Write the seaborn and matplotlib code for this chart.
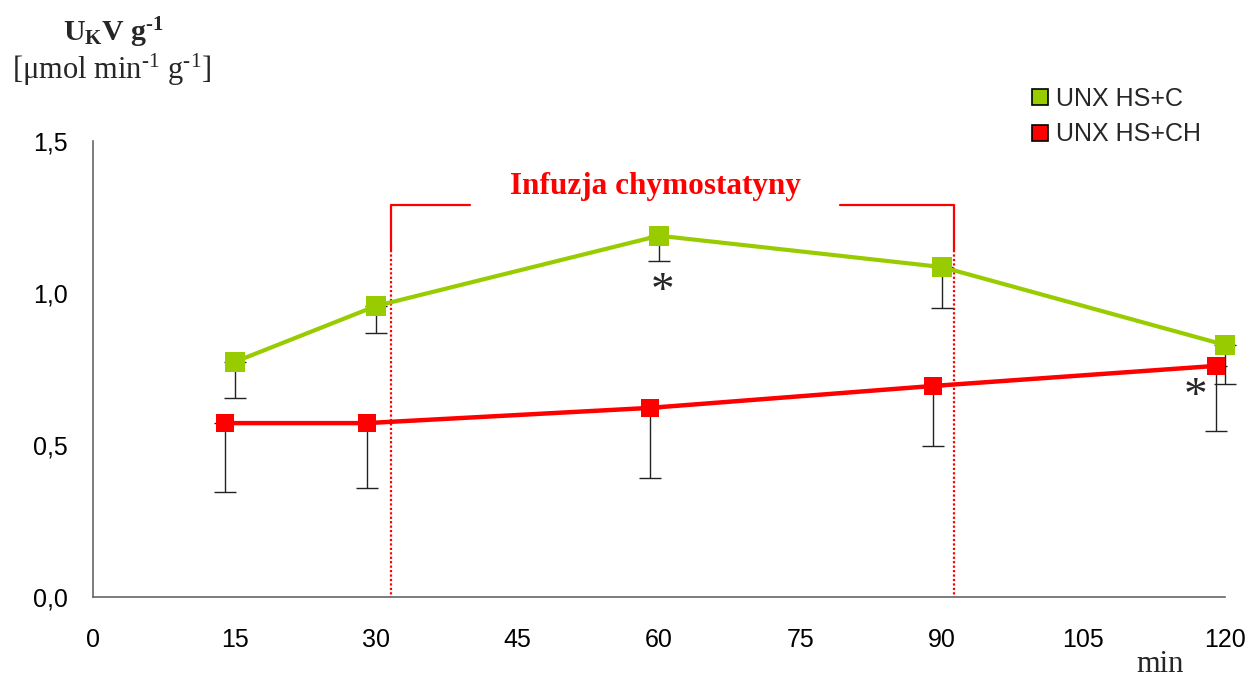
import matplotlib
matplotlib.use("Agg")
import matplotlib.pyplot as plt
from matplotlib.lines import Line2D
import numpy as np
import pandas as pd
import seaborn as sns

# Sampling times [min]
czas = [15, 30, 60, 90, 120]
# Group labels
grupy = ["UNX HS+C", "UNX HS+CH"]
# Mean values of UKV per g [umol/min/g]
srednie_c = [0.773, 0.957, 1.188, 1.085, 0.829]
srednie_ch = [0.572, 0.572, 0.622, 0.694, 0.760]
# Lower error (SD) for each mean
blad_c = [0.118, 0.089, 0.083, 0.134, 0.130]
blad_ch = [0.227, 0.214, 0.230, 0.197, 0.214]
# Axis ticks
x_ticks = [0, 15, 30, 45, 60, 75, 90, 105, 120]
y_ticks = [0.0, 0.5, 1.0, 1.5]
y_tick_labels = ["0,0", "0,5", "1,0", "1,5"]
# Chymostatin infusion window [min]
infuzja = (31.6, 91.3)

kolory = {"UNX HS+C": "#99CC00", "UNX HS+CH": "#FF0000"}
przesuniecie = {"UNX HS+C": 0.0, "UNX HS+CH": -1.0}
rozmiar = {"UNX HS+C": 14.5, "UNX HS+CH": 12.5}
grubosc = {"UNX HS+C": 3.0, "UNX HS+CH": 3.2}

sns.set_style("white")
plt.rcParams["font.family"] = ["Liberation Sans", "DejaVu Sans"]
plt.rcParams["mathtext.fontset"] = "custom"
plt.rcParams["mathtext.rm"] = "Liberation Serif"
plt.rcParams["mathtext.bf"] = "Liberation Serif:bold"
plt.rcParams["mathtext.it"] = "Liberation Serif:italic"

df = pd.DataFrame({
    "czas": czas * 2,
    "grupa": [grupy[0]] * len(czas) + [grupy[1]] * len(czas),
    "wartosc": srednie_c + srednie_ch,
    "blad": blad_c + blad_ch,
})
df["x"] = df["czas"] + df["grupa"].map(przesuniecie)

fig = plt.figure(figsize=(12.52, 6.77), dpi=100)
ax = fig.add_axes([0.0743, 0.118, 0.9041, 0.674])

# Infusion bracket and dotted boundaries
sel = dict(color="#FF0000", lw=1.6, zorder=1)
for xb in infuzja:
    ax.plot([xb, xb], [1.289, 1.141], solid_capstyle="butt", **sel)
    ax.plot([xb, xb], [1.141, 0.0], linestyle=(0, (1.0, 1.0)), **sel)
ax.plot([infuzja[0], 40.0], [1.289, 1.289], **sel)
ax.plot([79.2, infuzja[1]], [1.289, 1.289], **sel)
ax.text(59.6, 1.349, "Infuzja chymostatyny", color="#FF0000",
        fontsize=22.5, fontweight="bold", family="Liberation Serif",
        ha="center", va="center")

# Downward-only error bars
for g in grupy:
    d = df[df["grupa"] == g]
    ax.errorbar(d["x"], d["wartosc"], yerr=[d["blad"], np.zeros(len(d))],
                fmt="none", ecolor="#222222", elinewidth=1.0, capsize=8,
                capthick=1.0, zorder=2, clip_on=False)

# Mean lines with square markers
for g in grupy:
    d = df[df["grupa"] == g]
    sns.lineplot(data=d, x="x", y="wartosc", color=kolory[g],
                 marker="s", markersize=rozmiar[g], markeredgewidth=0,
                 linewidth=grubosc[g], legend=False, ax=ax, zorder=3)
for ln in ax.lines:
    ln.set_clip_on(False)

# Significance marks
ax.text(60.4, 1.0, "*", fontsize=34, family="Liberation Serif",
        ha="center", va="center")
ax.text(116.9, 0.655, "*", fontsize=34, family="Liberation Serif",
        ha="center", va="center")

ax.set_xlim(0, 120)
ax.set_ylim(0, 1.5)
ax.set_xticks(x_ticks)
ax.set_yticks(y_ticks)
ax.set_yticklabels(y_tick_labels)
ax.set_xlabel("")
ax.set_ylabel("")
ax.tick_params(axis="both", direction="out", length=7, width=1.2,
               color="#666666", labelsize=18, labelcolor="black")
ax.tick_params(axis="x", pad=15)
ax.tick_params(axis="y", pad=11)
for s in ["top", "right"]:
    ax.spines[s].set_visible(False)
for s in ["left", "bottom"]:
    ax.spines[s].set_color("#666666")
    ax.spines[s].set_linewidth(1.2)

# Axis titles (U+2010 hyphen keeps the bold superscript short)
fig.text(113 / 1252, 1 - 33 / 677, "$\\mathbf{U_{K}V\\ g^{\u20101}}$",
         fontsize=21.5, ha="center", va="center")
fig.text(12 / 1252, 1 - 70 / 677, r"[μmol min$^{\text{-1}}$ g$^{\text{-1}}$]",
         fontsize=22, family="Liberation Serif", ha="left", va="center")
fig.text(1160 / 1252, 1 - 665 / 677, "min", fontsize=22,
         family="Liberation Serif", ha="center", va="center")

# Legend
uchwyty = [Line2D([], [], linestyle="none", marker="s", markersize=12,
                  markerfacecolor=kolory[g], markeredgecolor="black",
                  markeredgewidth=1.2, label=g) for g in grupy]
fig.legend(handles=uchwyty, loc="upper left",
           bbox_to_anchor=(1020 / 1252, 1 - 77 / 677), frameon=False,
           fontsize=18, handlelength=0.8, handletextpad=0.25,
           labelspacing=0.45, borderaxespad=0)

fig.savefig("out.png", dpi=100)
